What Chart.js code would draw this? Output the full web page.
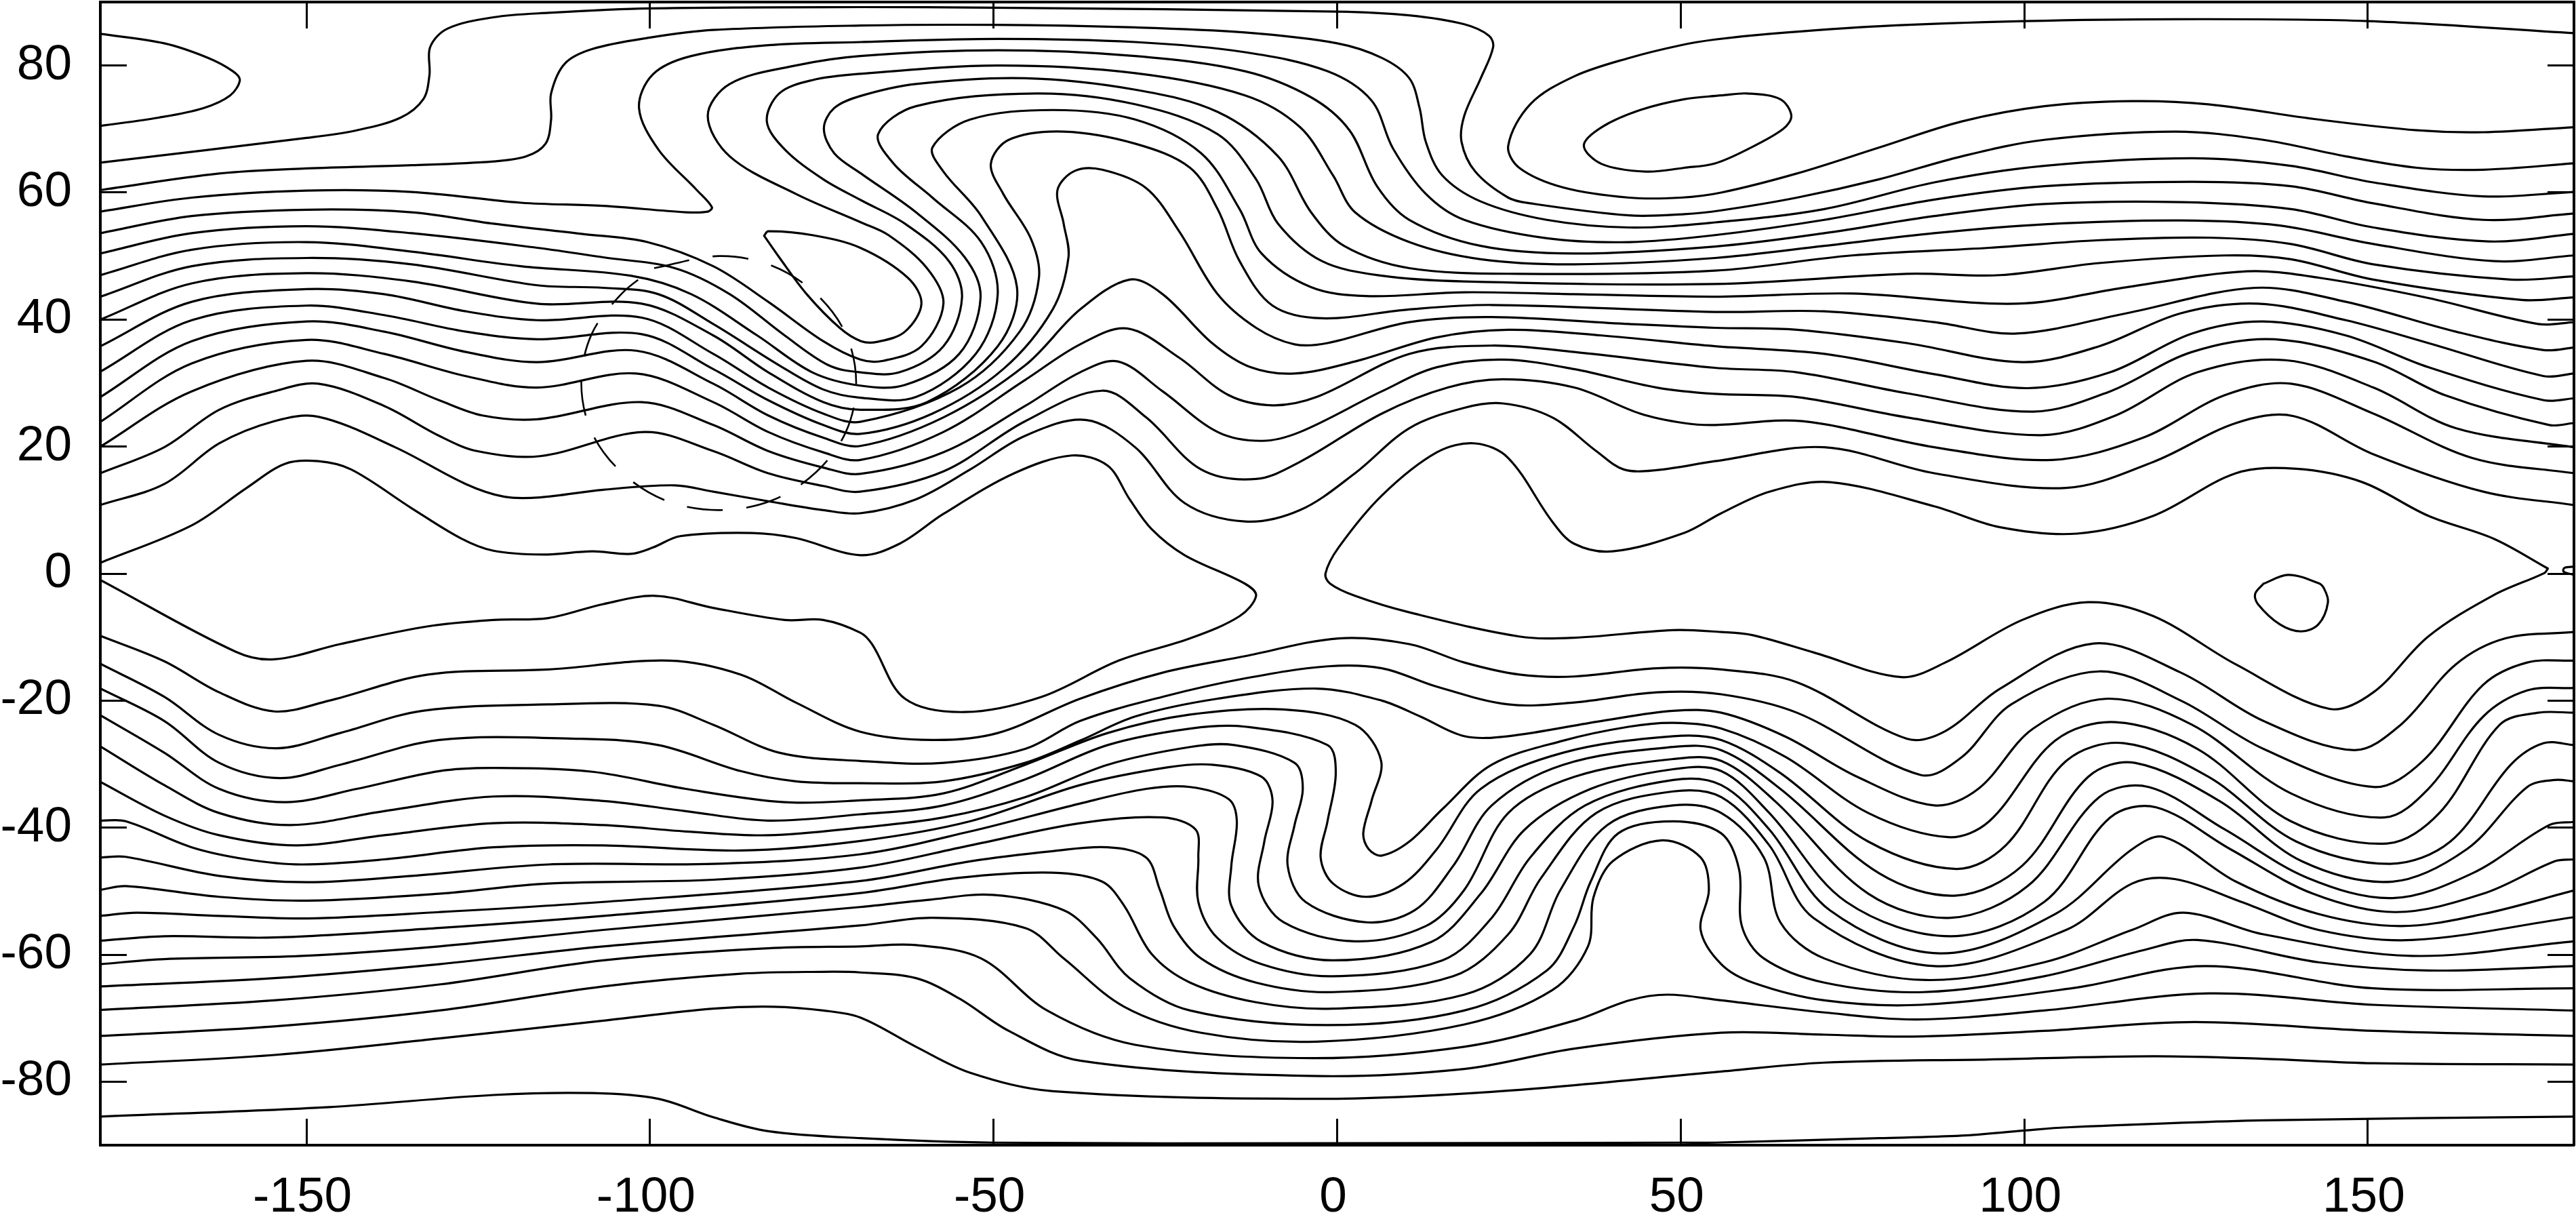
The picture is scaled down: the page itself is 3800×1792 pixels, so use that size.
<!DOCTYPE html>
<html>
<head>
<meta charset="utf-8">
<title>Contours</title>
<script src="https://cdn.jsdelivr.net/npm/chart.js@4"></script>
<style>
  html, body { margin: 0; padding: 0; background: #fff; }
  canvas { display: block; }
</style>
</head>
<body>
<canvas id="contourChart" width="3800" height="1792"></canvas>
<script>
const lonTicks = [-150, -100, -50, 0, 50, 100, 150];
const latTicks = [-80, -60, -40, -20, 0, 20, 40, 60, 80];

// contours as [lon, lat]
const capWest = [[-180,85],[-170.7,83.5],[-164.3,81.2],[-160.7,79.1],[-159.7,77.7],[-161.1,75.3],[-165,73.3],[-171.5,71.8],[-180,70.5]];
const capEast = [[180,85.1],[150,87],[122,87.3],[100,87],[79,86.2],[63,85],[55,84.1],[50,83.2],[42.5,81.2],[34.5,78.3],[28.1,73.9],[24.9,67.4],[26.5,63.9],[32.9,60.8],[42.5,59.2],[50,59.2],[55.9,60],[66.9,63],[78.9,67.1],[90.9,71.2],[102.9,73.6],[115.7,74.4],[126.8,73.9],[142.8,71.5],[157.2,69.8],[166.8,69.5],[180,70.3]];
const innerCap = [[55.9,75.3],[59.7,75.6],[64.5,74.7],[66.1,72.1],[64.9,70],[59.7,66.8],[55,64.6],[50.5,63.9],[44.9,63.3],[38.5,64.5],[35.9,67.4],[38.5,70.3],[44.1,73],[50.5,74.7],[55.9,75.3]];

const north1 = [[-180,64.7],[-150,68.6],[-142.7,69.8],[-136.3,71.8],[-133,74.7],[-132.1,78.5],[-132,82.9],[-129.5,85.8],[-122.8,87.6],[-114.8,88.3],[-100,89],[-69.3,89.2],[-50,89.1],[0,88.5],[10.5,87.9],[18.5,86.5],[22.1,84.7],[22.7,82.9],[20.9,78],[18.5,72.1],[18.1,68],[20.1,63.3],[24.9,59.2],[28.1,58.3],[42.5,56.4],[50.5,56.6],[55.9,57.2],[66.9,59.2],[78.9,62.1],[90.9,65.7],[102.9,68.3],[122,69.6],[134.8,68.3],[146.8,65.7],[157.2,63.9],[166.8,63.6],[180,64.6]];
const north2 = [[-180,60.4],[-162.7,63],[-150,63.8],[-134.7,64.3],[-122.8,64.9],[-118,65.7],[-115.2,67.7],[-114.4,71.5],[-114.4,75.6],[-112.4,80.3],[-108.4,82.6],[-100,84.4],[-90.8,85.6],[-69.3,86.3],[-50,86.4],[-29.4,86],[-13.4,85.2],[0,83.5],[6.5,81.2],[10.5,78],[12,73.3],[12.9,68],[15.3,62.7],[20.9,58.6],[30.5,55.7],[42.5,54.5],[55,55.3],[70.9,57.4],[86.9,61.6],[102.9,64.2],[124.4,65.4],[138.8,64.2],[150.8,61.6],[166.8,59.4],[180,60.1]];
const north3 = [[-180,57],[-166.7,59.2],[-150,60.3],[-134.7,60.1],[-118.8,58.4],[-106.8,57.9],[-94.8,56.9],[-91.6,57],[-91,57.7],[-93.2,60.4],[-98.8,66.8],[-101.6,73.3],[-99.6,78.6],[-94,81.5],[-82.8,83.2],[-69.3,83.7],[-49.4,84.2],[-29.4,83.7],[-13.4,82.1],[-1.4,79.1],[5,74.5],[8.1,67],[12.9,59.8],[18.5,55.7],[30.5,52.8],[42.5,52.2],[55,53.3],[70.9,55.7],[86.9,58.9],[102.9,61],[124.4,61.7],[138.8,61],[150.8,58.3],[166.8,55.7],[180,56.7]];
const north4 = [[-180,53.6],[-166.7,56.3],[-150,57.3],[-134.7,56.9],[-122.8,55.1],[-110,53.5],[-100.4,52.2],[-90.8,48.4],[-82.8,42.8],[-74.8,36.6],[-69.4,33.7],[-66.1,33.5],[-60.5,35.8],[-57.3,42.5],[-59.7,48.1],[-65.3,53.3],[-69.3,55.3],[-78.8,59.8],[-88.4,65.7],[-91.6,72.1],[-88.4,77.1],[-78.8,80],[-69.4,81.5],[-49.4,82.4],[-29.4,81.5],[-13.4,79.1],[-3.8,75],[1.8,69.8],[5.8,61],[10.5,55.7],[20.9,51.6],[34.5,50.4],[55,51.5],[70.9,53.6],[86.9,56.3],[102.9,58.2],[122.8,58.5],[138.8,57.4],[150.8,54.5],[167.6,52.3],[180,53.5]];
const north5 = [[-180,50.4],[-166.7,53.6],[-150,54.7],[-134.7,53.6],[-116.4,51.3],[-106.8,49.8],[-96.4,48.1],[-88.4,44],[-80.4,37.5],[-74,32.8],[-69.4,31.7],[-63.7,31.7],[-57.3,35.8],[-54.6,43.4],[-56.5,49.2],[-62.9,55.1],[-69.3,58.8],[-74.8,62.1],[-80.4,66.8],[-83,71.2],[-81.2,75.6],[-76.4,77.7],[-69.4,78.7],[-49.4,80],[-29.4,78.8],[-13.4,75.3],[-5.4,70.3],[-0.6,62.7],[2.6,56.9],[10.5,52.2],[20.9,49.5],[34.5,48.7],[55,49.7],[70.9,51.6],[86.9,53.6],[102.9,55],[122.8,55.6],[137.2,54.8],[150.8,51.9],[168.4,49.2],[180,50.1]];
const north6 = [[-180,47],[-166.7,51],[-150,52.2],[-134.7,50.7],[-118.8,48.4],[-102.8,46.9],[-94,44],[-84.4,37.5],[-76.4,31.7],[-69.4,29.6],[-62.9,29.7],[-55,34.6],[-51.9,43.4],[-54.2,49.8],[-61.3,56.9],[-69.3,63],[-73.2,66.2],[-74.7,70.1],[-73.2,73.3],[-69.4,75.2],[-61.3,77.1],[-45.4,78],[-29.4,76.2],[-17.4,72.7],[-8.6,65.7],[-3.8,56.9],[1,51.6],[10.5,48.1],[26.5,47.2],[55,47.7],[74.9,50.1],[94.9,51.3],[110.9,52.5],[126.8,52.9],[138.8,51.9],[150.8,48.7],[170.8,46.3],[180,46.8]];
const north7 = [[-180,43.6],[-166.7,48.4],[-150,49.7],[-134.7,48.7],[-116.4,45.4],[-106.8,45],[-98.8,44],[-90.8,39.3],[-81.2,32.8],[-74.8,29],[-69.4,27.7],[-61.3,27.8],[-52.6,34.6],[-49.4,44],[-51.8,52.2],[-58.9,59.2],[-64.5,64.5],[-66.8,69.2],[-61.3,73.6],[-43.8,75.6],[-29.4,73.9],[-17.4,69.2],[-11.8,62.1],[-8.6,55.1],[-2.2,49.2],[6.5,46.9],[18.5,46],[55,45.6],[82.9,47.2],[96.5,47],[110.9,48.9],[129.2,50.1],[138.8,49.5],[150.8,46.3],[172.4,43.1],[180,43.5]];
const north8 = [[-180,40],[-166.7,45.7],[-150,47.3],[-134.7,46],[-116.4,42.5],[-101.2,42.5],[-90.8,37.5],[-82.8,31.7],[-74.8,27],[-69.4,25.8],[-59.7,27],[-49.4,35.8],[-46.6,45.1],[-51.8,56.3],[-57.3,63.3],[-58.9,67.1],[-53.4,71.5],[-41.4,73],[-29.4,71.5],[-19.8,66.2],[-14.2,57.4],[-11,50.4],[-3.8,45.1],[4.2,43.7],[18.5,44.3],[34.5,44],[55,43.6],[74.9,44.1],[98.9,42.5],[114.9,45.1],[132.4,47.6],[142.8,46.6],[158.8,43.4],[174.8,39.3],[180,39.6]];
const north9 = [[-180,35.8],[-166.7,42.8],[-150,44.8],[-138.7,44],[-126.8,41.3],[-116.4,39.9],[-101.2,40.3],[-90.8,34.6],[-82.8,29.3],[-74.8,25.2],[-69.4,23.9],[-55,29.3],[-46.2,38.1],[-43.4,46.6],[-44.6,52.8],[-48.6,59.8],[-50.4,64.5],[-47.8,68.3],[-39.8,69.6],[-29.4,67.7],[-21.4,63.9],[-17.4,57.4],[-14.2,49.2],[-9.4,42.2],[-2.2,40.2],[10.5,41.6],[22.5,42.3],[55,41.2],[70.9,41.3],[86.9,39.6],[98.9,37.8],[114.9,41],[133.6,45],[146.8,42.8],[162.8,38.1],[175.6,35.2],[180,35.6]];
const north10 = [[-180,31.8],[-166.7,39.9],[-150,42.2],[-138.7,40.7],[-126.8,38.1],[-116.4,36.9],[-101.2,37.7],[-90.8,32.2],[-82.8,27.3],[-74.8,23.4],[-69.4,22],[-58.9,25.2],[-48.6,32.2],[-41.4,41.6],[-39.1,49.8],[-39.8,55.1],[-40.7,60.4],[-38.2,63.4],[-34.2,63.6],[-27.8,60.7],[-23,53.9],[-17.4,44],[-11.8,38.7],[-6.2,36.1],[-1.4,36.3],[10.5,39.6],[22.5,40.4],[42.5,39.3],[55,38.7],[66.9,38.4],[82.9,36.3],[99.7,33.3],[110.9,35.8],[122.8,41],[134,42.5],[146.8,39.9],[158.8,36.3],[175.6,31.1],[180,31.5]];
const north11 = [[-180,27.8],[-166.7,36.6],[-150,39.7],[-138.7,38.1],[-126.8,34.9],[-116.4,33.3],[-102,35.1],[-90.8,29.9],[-82.8,24.9],[-74.8,21.4],[-69.4,20.1],[-57.3,24.6],[-45.4,32.8],[-37.4,41.6],[-30.2,46.3],[-25.4,44],[-18.2,36.3],[-12.6,32.5],[-6.2,31.5],[2.6,33.4],[14.5,37.2],[24.9,38.4],[38.5,37.5],[55,35.8],[70.9,34.6],[86.9,31.4],[100.5,29.2],[112.5,31.7],[124.4,37.8],[134.8,39.7],[146.8,37.5],[158.8,32.5],[175.6,27.3],[180,27.6]];
const north12 = [[-180,23.9],[-166.7,33.1],[-150,36.8],[-138.7,34.6],[-126.8,31.1],[-116.4,29.3],[-102,31.5],[-90.8,27],[-82.8,22.3],[-74.8,19.1],[-69.4,17.9],[-57.3,22.3],[-45.4,30.5],[-37.4,36.1],[-30.6,38.6],[-23,34],[-15.8,28.1],[-9.4,26.5],[-3,27.8],[10.5,34.6],[22.5,35.9],[34.5,34.9],[55,32.4],[66.9,31.7],[82.9,28.4],[101.3,25.5],[112.5,28.7],[124.4,34.9],[136.4,36.9],[150.8,33.4],[161.2,28.1],[176.4,23.4],[180,23.7]];
const north13 = [[-180,20],[-166.7,28.7],[-150,33.5],[-138.7,30.8],[-130.7,27.3],[-124.4,24.9],[-116.4,24.3],[-101.2,27],[-90.8,23.4],[-82.8,19.3],[-74.8,16.7],[-69.4,15.7],[-57.3,19.1],[-45.4,26.4],[-37.4,31.7],[-31.9,33.4],[-25.4,28.7],[-17.4,22.3],[-11,20.9],[-5.4,22.3],[6.5,28.7],[14.5,32.5],[24.1,33.7],[34.5,32.2],[46.5,29.3],[55,28.3],[66.9,27.8],[82.9,24.6],[102.5,21.8],[113.3,24.9],[125.2,31.7],[138,33.6],[150.8,29.3],[162.8,22.9],[180,19.9]];
const north14 = [[-180,15.8],[-170.7,19.9],[-162.7,25.8],[-154.7,28.7],[-148.3,29.9],[-138.7,26.4],[-130.7,21.7],[-125.2,19.3],[-116,18.5],[-100.8,22.3],[-90.8,19.3],[-82.8,15.8],[-74.8,13.8],[-69.4,12.9],[-57.3,16.1],[-45.4,24],[-34.2,28.8],[-27.8,24.6],[-19.8,16.4],[-11.8,14.9],[-5.4,17.6],[6.5,25.2],[16.1,29.3],[24.1,30.6],[34.5,29.3],[44.1,25.2],[50.5,23.7],[55,23.4],[67.7,24],[86.9,19.9],[104.1,17.9],[117.3,21.4],[129.2,28.1],[138.8,29.9],[150.8,25.2],[165.2,18.2],[180,15.8]];
const north15 = [[-180,10.8],[-170.7,14.1],[-162.7,20.5],[-154.7,24],[-148.3,24.7],[-137.1,19.9],[-126.8,14.1],[-121.2,12.1],[-116,12],[-106.8,13.2],[-96.4,13.9],[-90.8,12.9],[-82.8,11.4],[-74.8,10],[-69.4,9.5],[-61.3,11.7],[-53.4,16.4],[-45.4,21.7],[-36.6,24.2],[-29.4,19.9],[-22.2,11.1],[-13.4,8.2],[-5.4,10],[2.6,15.8],[10.5,22.9],[18.5,26.1],[24.1,26.8],[31.3,24.6],[37.7,19.3],[41.7,16.4],[46.5,16.3],[55,17.7],[70.9,19.9],[86.9,15.8],[106.1,13.5],[118.8,17.6],[130.8,23.7],[139.2,24.8],[150.8,18.8],[166.8,12.9],[180,10.8]];
// runs from the west edge just above the equator, dips round the Atlantic and back to the west edge
const equatorWest = [[-180,1.7],[-166.7,7.6],[-158.7,13.5],[-153.1,17.3],[-148.3,17.7],[-143.5,16.4],[-134.7,10.3],[-127.6,5.6],[-122.8,3.6],[-115.6,3],[-108.4,3.5],[-102.8,3.1],[-99.6,4.1],[-95.6,5.9],[-85.2,6.4],[-78.8,5.6],[-69.4,2.9],[-63.7,4.7],[-57.3,9.4],[-47,15.8],[-38.6,18.6],[-33.4,17],[-30.2,11.7],[-27,7],[-22.2,2.9],[-13.4,-1.6],[-11.8,-3.5],[-14.2,-6.7],[-21.4,-10.2],[-31.8,-13.7],[-43,-19.4],[-54.2,-21.8],[-62.9,-19.7],[-67.7,-11.1],[-69.4,-9.3],[-74.8,-7.3],[-80.4,-7.3],[-90.8,-5.4],[-99.2,-3.5],[-106.8,-4.8],[-114.8,-7],[-122.8,-7.3],[-132.3,-8.3],[-145.1,-11.1],[-154.7,-13.5],[-160.3,-12.3],[-180,-1]];
const equatorEast = [[176.2,0.8],[168.3,5.5],[158.8,9.1],[149.2,14.4],[139.6,16.5],[130.8,15.8],[118.8,9.1],[107.7,6.3],[96.5,7.3],[86.9,10.6],[71.7,14.4],[62.9,12.9],[55.9,9.5],[50.5,6.4],[40.1,3.5],[34.5,4.7],[31.3,8.2],[24.9,18.2],[20.1,20.5],[14.5,19.1],[6.5,12.3],[0.2,4.1],[-1.7,0],[-1,-1.6],[2.6,-3.5],[10.5,-6.1],[26.5,-9.9],[34.5,-10.1],[48.9,-8.9],[55.9,-9.2],[60.5,-9.7],[69.3,-12.4],[82.1,-16.3],[88.5,-14],[99.7,-7.3],[109.3,-4.5],[118.8,-6.7],[130.8,-14.3],[144.4,-21.3],[150.8,-18.7],[158.8,-9.9],[168.3,-3.4],[175.7,0.1],[176.2,0.8]];
const smallLoop = [[134.8,-1.6],[138.4,-0.2],[142.8,-1.5],[143.6,-2.3],[144.2,-4.5],[142.8,-8],[140.3,-9.1],[137.2,-8],[134,-4.8],[133.6,-3.2],[134.8,-1.6]];
const edgeNub = [[180,1.1],[178.6,0.9],[178.5,0.3],[180,-0.2]];
const northEye = [[-83.4,53.2],[-82.8,53.9],[-76.4,53.3],[-69.4,51.3],[-62.5,46.6],[-60.5,42.5],[-62.9,38.1],[-66.9,36.5],[-69.3,36.6],[-72.4,38.7],[-77.2,44],[-81.2,49.8],[-83.4,53.2]];

const south1 = [[-180,-9.8],[-170.7,-13.8],[-162.7,-18.7],[-154.7,-21.7],[-146.7,-20],[-132.3,-15.9],[-114.8,-15.1],[-97.2,-13.7],[-86.8,-15.9],[-78.8,-20.3],[-69.4,-24.9],[-58.9,-26.2],[-49.4,-25.1],[-37.4,-19.7],[-25.4,-15.6],[-13.4,-13],[0.2,-10.2],[10.5,-11.1],[18.5,-14],[26.5,-15.9],[34.5,-16.2],[46.5,-14.9],[55.9,-15.1],[66.9,-17.1],[82.9,-26],[88.5,-24.8],[96.5,-18.1],[110.1,-11],[122.8,-15.6],[134.8,-23.2],[148,-27.8],[154.8,-23.8],[162.8,-14.3],[170,-10.2],[180,-9.2]];
const south2 = [[-180,-14.2],[-170.7,-19.4],[-162.7,-25.4],[-154.3,-27.5],[-145.1,-25.1],[-133.1,-21.6],[-114.8,-20.6],[-98.8,-20.8],[-90.8,-23.8],[-81.2,-28.2],[-69.4,-29.5],[-57.3,-29.8],[-45.4,-27.6],[-37.4,-23.2],[-25.4,-19.4],[-13.4,-16.5],[-1.4,-14.6],[6.5,-14.9],[14.5,-17.8],[24.9,-20.6],[34.5,-20.3],[46.5,-18.7],[55.9,-19],[66.9,-21.9],[84.9,-31.7],[90.9,-28.9],[98.1,-20.6],[110.9,-15.4],[122.8,-20],[134.8,-27.6],[150.8,-33.6],[158,-29.5],[166.8,-17.5],[173.2,-14],[180,-13.7]];
const south3 = [[-180,-18.1],[-170.7,-23.2],[-162.7,-29.8],[-153.9,-32.2],[-145.1,-30.1],[-130.7,-26.2],[-110.8,-26],[-98.8,-27],[-86.8,-31.1],[-78.8,-32.7],[-69.4,-33],[-57.3,-32.7],[-45.4,-29.8],[-37.4,-26.3],[-29.4,-22.5],[-17.4,-19.7],[-3,-18.1],[6.5,-20],[12.1,-22.5],[18.5,-25.6],[24.9,-25.6],[38.5,-23.2],[48.9,-21.6],[55.9,-21.9],[65.3,-25.7],[75.7,-32],[86.9,-36.5],[93.3,-33.9],[101.3,-24.4],[112.1,-19.7],[124.4,-23.8],[138.8,-34.6],[152.4,-38.4],[158.8,-33.9],[166.8,-22.5],[173.2,-18.4],[180,-18]];
const south4 = [[-180,-22.3],[-170.7,-28.2],[-162.7,-33.9],[-153.1,-36],[-142.7,-33.9],[-130.7,-31.1],[-122.8,-30.6],[-108.4,-31.2],[-94.8,-33.9],[-80.4,-36],[-69.4,-35.7],[-57.3,-34.6],[-45.4,-30.1],[-33.4,-25.1],[-21.4,-22.2],[-7.8,-21.4],[2.6,-23.8],[6.4,-29.5],[5,-35.8],[3.8,-40.9],[4.6,-43.4],[6.5,-44.4],[10.5,-42.2],[15.3,-37.1],[22.5,-30.1],[32.9,-26.3],[42.5,-24.1],[48.9,-23.5],[55.9,-24.4],[65.3,-28.9],[77.3,-37.7],[88.9,-41.5],[94.9,-39],[104.5,-26.3],[113.3,-23.4],[125.2,-27.6],[138.8,-39],[152.8,-42.5],[160.4,-37.7],[169.2,-23.8],[174.8,-21.9],[180,-21.9]];
const south5 = [[-180,-27.2],[-170.7,-33.3],[-162.7,-37.7],[-152.3,-39.6],[-138.7,-37.4],[-122.8,-35.1],[-106.8,-35.8],[-94.8,-37.4],[-82.8,-38.9],[-69.4,-37.9],[-57.3,-36.5],[-45.4,-32.4],[-33.4,-27],[-21.4,-24.4],[-13.4,-24.1],[-1.4,-27],[-0.2,-31.4],[-1.4,-39],[-2.4,-44.7],[-0.6,-48.8],[4.2,-50.9],[9.7,-48.8],[14.5,-43.4],[20.9,-33.9],[32.9,-28.2],[48.9,-25.6],[55.9,-26.2],[64.5,-31.4],[77.3,-42.2],[90.1,-46.5],[97.3,-42.8],[106.1,-29.5],[114.5,-26.7],[126.8,-32],[139.6,-42.2],[153.2,-45.7],[162,-42.2],[170.8,-30.1],[175.6,-26.7],[180,-27]];
const south6 = [[-180,-32.8],[-170.7,-38.1],[-162.7,-41.2],[-151.5,-42.8],[-138.7,-41.2],[-122.8,-39.3],[-106.8,-39.6],[-94.8,-40.6],[-82.8,-41.2],[-69.4,-40],[-57.3,-38.4],[-45.4,-35.2],[-33.4,-30.1],[-21.4,-27.3],[-15,-27],[-6.2,-29.8],[-5,-33.9],[-6.2,-39.6],[-7.2,-46],[-4.6,-51.7],[4.2,-54.9],[11.3,-53],[16.9,-46],[22.5,-36.5],[32.9,-30.1],[48.9,-27.3],[55.9,-27.8],[64.5,-33.9],[78.9,-47.2],[90.1,-50.7],[99.7,-46],[109.3,-32],[116.1,-29.8],[128.4,-35.8],[140.4,-45.3],[153.6,-48.5],[164.4,-43.4],[173.2,-33.6],[177.2,-32.5],[180,-32.7]];
const south7 = [[-180,-38.9],[-176.3,-39],[-166.7,-43.1],[-158.7,-45],[-150.7,-45.8],[-138.7,-45],[-122.8,-43.1],[-106.8,-42.8],[-86.8,-43.6],[-69.4,-42.1],[-53.4,-39],[-37.4,-33.3],[-24.6,-30.5],[-18.2,-30.1],[-11,-32],[-9.4,-35.8],[-10.6,-42.2],[-11.4,-49.2],[-7.8,-54.9],[2.6,-57.9],[12.9,-55.5],[18.5,-49.8],[24.9,-37.7],[34.5,-32],[48.9,-29.2],[55.9,-29.5],[63.7,-35.8],[77.3,-50.4],[89.3,-54.2],[100.5,-49.2],[110.9,-35.2],[118.1,-33.6],[129.2,-40.3],[141.2,-47.9],[153.6,-51.1],[165.2,-47.2],[176.4,-39.6],[180,-39.1]];
const south8 = [[-180,-44.7],[-176.3,-44.6],[-162.7,-47.6],[-149.9,-48.6],[-134.7,-47.6],[-114.8,-45.8],[-90.8,-45.7],[-69.4,-44.2],[-53.4,-40.6],[-37.4,-36.2],[-27.8,-33.9],[-21.4,-33.6],[-15.8,-35.5],[-14.6,-39],[-15.4,-46],[-15.4,-52.3],[-11,-58],[-0.6,-60.9],[13.7,-58],[20.9,-50.4],[27.3,-40.3],[36.9,-33.9],[48.9,-30.8],[55.9,-31.1],[62.9,-37.7],[74.1,-51.7],[89.3,-57.1],[102.9,-51.7],[112.5,-38.4],[119.2,-36.8],[130,-43.4],[142,-50.4],[154,-53.3],[166.8,-50.4],[177.2,-45.3],[180,-45]];
const south9 = [[-180,-49.8],[-176.3,-49.2],[-162.7,-50.9],[-149.9,-51.5],[-130.7,-50.4],[-114.8,-48.8],[-90.8,-48.2],[-69.4,-46.3],[-53.4,-42.8],[-37.4,-39.3],[-25.4,-38.4],[-20.6,-40.3],[-20.2,-44.7],[-20.2,-51.7],[-17.4,-57.4],[-11,-61.5],[-0.6,-63.4],[15.3,-60.9],[22.5,-54.2],[28.1,-44.7],[36.1,-36.5],[48.9,-32.5],[55.9,-33.3],[62.9,-40.3],[71.7,-53],[87.7,-59.8],[104.5,-53.6],[115.7,-43.4],[120.4,-41.5],[130.8,-48.5],[142.8,-53.6],[154.8,-55.5],[166.8,-53.6],[180,-49.9]];
const south10 = [[-180,-53.9],[-174.7,-53.4],[-162.7,-53.9],[-149.9,-54.3],[-130.7,-53.3],[-106.8,-51.7],[-69.4,-48.4],[-53.4,-45.3],[-41.4,-43.7],[-33.4,-43.1],[-27.8,-44.7],[-25.8,-49.8],[-23.8,-55.5],[-19.8,-60.6],[-11.8,-64.4],[-0.6,-65.9],[16.9,-63.4],[24.9,-56.8],[29.7,-47.9],[37.7,-37.7],[48.9,-34.3],[55.9,-35.2],[62.9,-42.8],[69.3,-54.2],[86.9,-61.8],[106.1,-56.1],[115.7,-48.8],[121.9,-48.1],[131.6,-51.7],[142.8,-56.1],[156.4,-57.7],[180,-54.1]];
const south11 = [[-180,-57.8],[-170.7,-57.1],[-154.7,-57.3],[-130.7,-55.8],[-106.8,-53.9],[-69.4,-50.3],[-55,-47.9],[-41.4,-47.1],[-34.2,-48.5],[-31,-52.3],[-27,-59.9],[-21.4,-64.4],[-11.8,-67.5],[-0.6,-68.5],[18.5,-66.3],[28.1,-59.9],[32.5,-49.8],[39.3,-39.6],[48.9,-36.5],[55.9,-37.7],[62.1,-44.7],[64.5,-54.9],[70.9,-60.6],[85.7,-64],[102.9,-61.2],[115.7,-56.1],[123.2,-53.4],[134.8,-56.8],[156.4,-60.2],[180,-57.9]];
const south12 = [[-180,-61.5],[-170.7,-60.7],[-150.7,-60.2],[-130.7,-58.7],[-106.8,-56.1],[-69.4,-52.5],[-59.7,-51.4],[-50.1,-50.6],[-39.8,-53],[-35,-57.4],[-30.2,-63.7],[-21.4,-68.8],[-1.4,-71.1],[18.5,-68.8],[30.5,-62.5],[34.5,-55.5],[36.9,-48.5],[40.9,-40.9],[48.9,-39],[55.9,-40.9],[58.5,-46.6],[58.9,-55.5],[62.1,-60.6],[70.9,-64.4],[85.3,-65.9],[102.9,-63.4],[117.3,-59.3],[125.2,-57.7],[142.8,-61.2],[158.8,-62.5],[180,-61.8]];
const south13 = [[-180,-65],[-154.7,-63.7],[-130.7,-61.5],[-106.8,-58.7],[-69.4,-55.4],[-58.9,-54.2],[-45.4,-55.8],[-39.8,-60.6],[-31,-68.2],[-19.8,-72.3],[-3,-73.7],[18.5,-71],[31.3,-65.6],[36.5,-58.7],[37.3,-51],[40.1,-45.3],[47.3,-42],[52.9,-44.7],[54.1,-49.8],[52.9,-56.1],[55.9,-61.5],[60.5,-64.4],[70.9,-67.2],[84.9,-67.9],[106.9,-65.3],[126.4,-61.8],[150.8,-65.3],[180,-65.3]];
const south14 = [[-180,-68.7],[-154.7,-67.2],[-130.7,-64.7],[-106.8,-60.9],[-82.8,-59],[-69.4,-58.7],[-61.3,-58.5],[-51.8,-60.6],[-42.2,-68.8],[-29.4,-74.2],[-3.8,-76.3],[18.5,-74.5],[34.5,-70.4],[42.5,-67.2],[48.1,-66.3],[55.9,-67.2],[70.9,-69.1],[84.5,-70.2],[102.9,-68.8],[126.8,-66.1],[150.8,-67.9],[180,-68.8]];
const south15 = [[-180,-72.8],[-154.7,-71.3],[-130.7,-68.8],[-106.8,-65],[-86.8,-63],[-74.8,-62.7],[-69.4,-62.8],[-61.3,-63.7],[-55,-66.9],[-47.8,-72],[-37.4,-76.7],[-3.8,-79.1],[18.5,-78],[34.5,-74.8],[55.9,-72.3],[70.9,-72.6],[83.7,-72.9],[102.9,-72],[124.8,-70.6],[150.8,-72],[180,-72.8]];
const south16 = [[-180,-77.3],[-154.7,-75.8],[-130.7,-73.2],[-106.8,-70.4],[-90.8,-68.5],[-82,-68.2],[-74.8,-68.8],[-69.4,-69.9],[-61.3,-74.5],[-53.4,-78.6],[-41.4,-81.5],[-3,-82.7],[22.5,-81.6],[55.9,-78.4],[70.9,-77],[94.9,-76.5],[118.8,-76],[134.8,-76.4],[150.8,-77.1],[180,-77.3]];
const south17 = [[-180,-85.5],[-146.7,-84],[-122.8,-82.1],[-108.4,-81.8],[-98.8,-82.7],[-90.8,-85.6],[-82.8,-87.8],[-69.4,-88.9],[-50,-89.6],[0,-89.7],[50,-89.6],[55,-89.6],[78.9,-88.9],[90.9,-88.5],[100,-87.7],[106.1,-87.2],[134.8,-86.1],[180,-85.5]];

// the dashed ring over the hook in the north west
const ring = [[-99.4,48.1],[-90,50],[-82.3,48.5],[-75.9,44.1],[-71.5,37.7],[-70,30],[-71.5,22.3],[-75.9,15.9],[-82.3,11.5],[-90,10],[-97.7,11.5],[-104.1,15.9],[-108.5,22.3],[-110,30],[-108.5,37.7],[-104.1,44.1],[-99.4,48.1]];

const contours = [
  capWest, capEast, innerCap,
  north1, north2, north3, north4, north5, north6, north7, north8, north9,
  north10, north11, north12, north13, north14, north15,
  equatorWest, equatorEast, smallLoop, edgeNub, northEye,
  south1, south2, south3, south4, south5, south6, south7, south8, south9,
  south10, south11, south12, south13, south14, south15, south16, south17
];

const toPoints = line => line.map(([x, y]) => ({ x, y }));

const datasets = contours.map(line => ({
  data: toPoints(line),
  borderColor: '#000',
  borderWidth: 3.2,
  pointRadius: 0,
  showLine: true,
  tension: 0.34,
  borderCapStyle: 'round',
  borderJoinStyle: 'round'
}));

datasets.push({
  data: toPoints(ring),
  borderColor: '#000',
  borderWidth: 2.6,
  pointRadius: 0,
  showLine: true,
  tension: 0.34,
  borderDash: [53, 35]
});

const tickFont = { family: '"Liberation Sans", Arial, sans-serif', size: 73 };
const frame = { display: true, width: 4, color: '#000' };
const marks = { drawOnChartArea: false, drawTicks: true, tickLength: -39, tickWidth: 3, tickColor: '#000' };

// no extra room for the end labels, the frame sits right at the canvas edge
const noPad = s => { s.paddingTop = 0; s.paddingBottom = 0; s.paddingLeft = 0; s.paddingRight = 0; };

const ctx = document.getElementById('contourChart').getContext('2d');
new Chart(ctx, {
  type: 'scatter',
  data: { datasets },
  options: {
    responsive: false,
    animation: false,
    events: [],
    layout: { padding: 0 },
    plugins: { legend: { display: false }, tooltip: { enabled: false } },
    scales: {
      x: {
        type: 'linear', position: 'bottom', min: -180, max: 180,
        border: frame, grid: marks,
        afterBuildTicks: s => { s.ticks = lonTicks.map(value => ({ value })); },
        afterFit: s => { s.height = 103; noPad(s); },
        ticks: { font: tickFont, color: '#000', padding: 73, maxRotation: 0, autoSkip: false, labelOffset: -6, callback: v => String(v) }
      },
      xTop: {
        type: 'linear', position: 'top', min: -180, max: 180,
        border: frame, grid: marks,
        afterBuildTicks: s => { s.ticks = lonTicks.map(value => ({ value })); },
        afterFit: s => { s.height = 3; noPad(s); },
        ticks: { display: false }
      },
      y: {
        type: 'linear', position: 'left', min: -90, max: 90,
        border: frame, grid: marks,
        afterBuildTicks: s => { s.ticks = latTicks.map(value => ({ value })); },
        afterFit: s => { s.width = 148; noPad(s); },
        ticks: { font: tickFont, color: '#000', padding: 81, autoSkip: false, callback: v => String(v) }
      },
      yRight: {
        type: 'linear', position: 'right', min: -90, max: 90,
        border: frame, grid: marks,
        afterBuildTicks: s => { s.ticks = latTicks.map(value => ({ value })); },
        afterFit: s => { s.width = 3; noPad(s); },
        ticks: { display: false }
      }
    }
  }
});
</script>
</body>
</html>
